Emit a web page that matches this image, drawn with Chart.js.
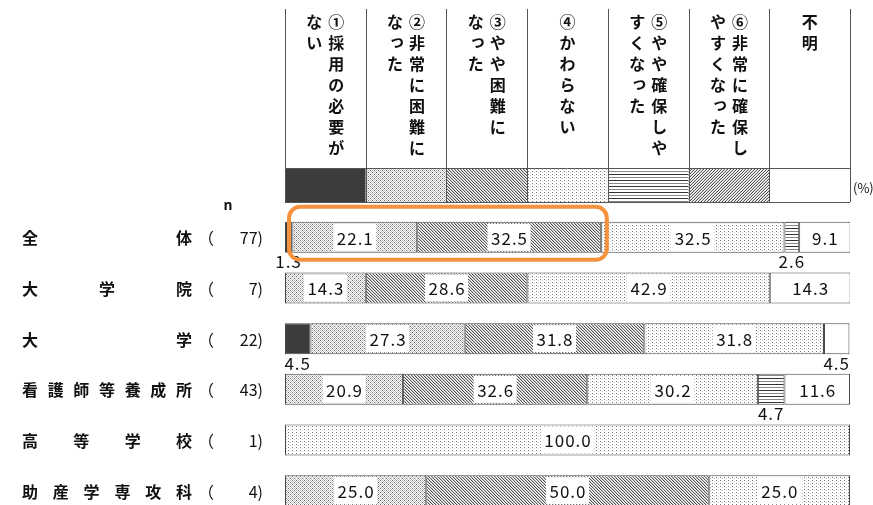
<!DOCTYPE html>
<html>
<head>
<meta charset="utf-8">
<script src="https://cdn.jsdelivr.net/npm/chart.js@4.4.1/dist/chart.umd.min.js"></script>
<style>
html, body { margin: 0; padding: 0; background: #fff; overflow: hidden; }
canvas { display: block; }
</style>
</head>
<body>
<canvas id="chartcanvas" width="873" height="530"></canvas>
<script>
// rows
var categories = ['全体', '大学院', '大学', '看護師等養成所', '高等学校', '助産学専攻科'];
var counts = [77, 7, 22, 43, 1, 4];

// answers (header text, \n = next vertical column)
var seriesNames = [
	'①採用の必要が\nない',
	'②非常に困難に\nなった',
	'③やや困難に\nなった',
	'④かわらない',
	'⑤やや確保しや\nすくなった',
	'⑥非常に確保し\nやすくなった',
	'不明'
];

// percentages per answer, one value per row
var s1 = [1.3, 0, 4.5, 0, 0, 0];
var s2 = [22.1, 14.3, 27.3, 20.9, 0, 25.0];
var s3 = [32.5, 28.6, 31.8, 32.6, 0, 50.0];
var s4 = [32.5, 42.9, 31.8, 30.2, 100.0, 25.0];
var s5 = [2.6, 0, 0, 4.7, 0, 0];
var s6 = [0, 0, 0, 0, 0, 0];
var s7 = [9.1, 14.3, 4.5, 11.6, 0, 0];
var seriesValues = [s1, s2, s3, s4, s5, s6, s7];

var FONT = '"Noto Sans CJK JP", "Noto Sans", sans-serif';

function makeTile(w, h, pixels) {
	var c = document.createElement('canvas');
	c.width = w; c.height = h;
	var g = c.getContext('2d');
	g.fillStyle = '#fff';
	g.fillRect(0, 0, w, h);
	for (var i = 0; i < pixels.length; i++) {
		g.fillStyle = pixels[i][2];
		g.fillRect(pixels[i][0], pixels[i][1], 1, 1);
	}
	return g.createPattern(c, 'repeat');
}

var p2 = [];
for (var yy = 0; yy < 4; yy++) {
	for (var xx = 0; xx < 4; xx++) {
		if ((xx + yy) % 2 == 0) p2.push([xx, yy, (xx == 0 && yy == 0) || (xx == 2 && yy == 2) ? '#666' : '#c4c4c4']);
	}
}
var fills = [
	'#3c3c3c',
	makeTile(4, 4, p2),
	makeTile(3, 3, [[0, 0, '#555'], [1, 0, '#c8c8c8'], [1, 1, '#555'], [2, 1, '#c8c8c8'], [2, 2, '#555'], [0, 2, '#c8c8c8']]),
	makeTile(4, 3, [[0, 0, '#777'], [2, 1, '#ccc']]),
	makeTile(1, 6, [[0, 0, '#333'], [0, 3, '#888']]),
	makeTile(3, 3, [[2, 0, '#555'], [1, 0, '#d4d4d4'], [1, 1, '#555'], [0, 1, '#d4d4d4'], [0, 2, '#555'], [2, 2, '#d4d4d4']]),
	'#ffffff'
];

var datasets = [];
for (var i = 0; i < seriesValues.length; i++) {
	datasets.push({
		label: seriesNames[i].replace('\n', ''),
		data: seriesValues[i],
		backgroundColor: fills[i],
		borderColor: '#4a4a4a',
		borderWidth: 1,
		borderSkipped: false,
		barPercentage: 0.612,
		categoryPercentage: 1.0
	});
}

var smallKana = 'っゃゅょぁぃぅぇぉ';

var headerPlugin = {
	id: 'header',
	afterDraw: function(chart) {
		var ctx = chart.ctx;
		var area = chart.chartArea;
		var colW = (area.right - area.left) / seriesNames.length;
		var top = 9, mid = 168, bot = 202;
		ctx.save();
		// swatches
		for (var k = 0; k < seriesNames.length; k++) {
			var x0 = area.left + k * colW;
			ctx.fillStyle = fills[k];
			ctx.fillRect(x0, mid, colW, bot - mid);
		}
		ctx.strokeStyle = '#555';
		ctx.lineWidth = 1;
		ctx.beginPath();
		for (var k = 0; k <= seriesNames.length; k++) {
			var x = Math.round(area.left + k * colW) + 0.5;
			ctx.moveTo(x, top);
			ctx.lineTo(x, bot);
		}
		ctx.moveTo(area.left, mid + 0.5);
		ctx.lineTo(area.right, mid + 0.5);
		ctx.moveTo(area.left, bot + 0.5);
		ctx.lineTo(area.right, bot + 0.5);
		ctx.stroke();

		// vertical text
		ctx.fillStyle = '#111';
		ctx.font = 'bold 16px ' + FONT;
		ctx.textAlign = 'center';
		ctx.textBaseline = 'middle';
		for (var k = 0; k < seriesNames.length; k++) {
			var cx = area.left + (k + 0.5) * colW;
			var lines = seriesNames[k].split('\n');
			for (var j = 0; j < lines.length; j++) {
				var lx = cx + ((lines.length - 1) / 2 - j) * 22;
				var chars = Array.from(lines[j]);
				for (var c = 0; c < chars.length; c++) {
					var dx = 0, dy = 0;
					if (smallKana.indexOf(chars[c]) >= 0) { dx = 2; dy = -2; }
					ctx.fillText(chars[c], lx + dx, 22 + c * 21 + dy);
				}
			}
		}

		ctx.font = 'bold 14px ' + FONT;
		ctx.fillText('n', 228, 205);
		ctx.font = '13px ' + FONT;
		ctx.textAlign = 'left';
		ctx.fillText('(%)', area.right + 3, 188);

		// row labels
		var yScale = chart.scales.y;
		for (var i = 0; i < categories.length; i++) {
			var y = yScale.getPixelForValue(i) + 1;
			var chars = Array.from(categories[i]);
			var step = (176 - 22) / (chars.length - 1);
			ctx.font = 'bold 16px ' + FONT;
			ctx.textAlign = 'left';
			for (var c = 0; c < chars.length; c++) {
				ctx.fillText(chars[c], 22 + c * step, y);
			}
			ctx.font = '16px ' + FONT;
			ctx.fillText('（', 198, y);
			ctx.textAlign = 'right';
			ctx.fillText(counts[i] + ')', 263, y);
		}
		ctx.restore();
	}
};

var labelPlugin = {
	id: 'valueLabels',
	afterDatasetsDraw: function(chart) {
		var ctx = chart.ctx;
		ctx.save();
		ctx.font = '17px ' + FONT;
		ctx.letterSpacing = '1px';
		ctx.textAlign = 'center';
		ctx.textBaseline = 'middle';
		for (var d = 0; d < chart.data.datasets.length; d++) {
			var meta = chart.getDatasetMeta(d);
			var vals = chart.data.datasets[d].data;
			for (var i = 0; i < meta.data.length; i++) {
				var v = vals[i];
				if (!v) continue;
				var bar = meta.data[i].getProps(['x', 'y', 'base', 'height'], true);
				var txt = v.toFixed(1);
				if (v >= 9) {
					var cx = (bar.x + bar.base) / 2;
					var w = ctx.measureText(txt).width + 6;
					ctx.fillStyle = '#fff';
					ctx.fillRect(cx - w / 2, bar.y - bar.height / 2 + 2, w, bar.height - 4);
					ctx.fillStyle = '#111';
					ctx.fillText(txt, cx + 0.5, bar.y + 1);
				} else {
					ctx.fillStyle = '#111';
					ctx.fillText(txt, (bar.x + bar.base) / 2, bar.y + bar.height / 2 + 9);
				}
			}
		}

		// orange highlight round row 0, answers ① to ③
		var x = chart.scales.x;
		var first = chart.getDatasetMeta(0).data[0].getProps(['y', 'height'], true);
		var x1 = x.getPixelForValue(0) + 4;
		var x2 = x.getPixelForValue(s1[0] + s2[0] + s3[0]) + 6;
		var y1 = first.y - first.height / 2 - 15;
		var y2 = first.y + first.height / 2 + 7;
		ctx.strokeStyle = '#f5923e';
		ctx.lineWidth = 4;
		ctx.beginPath();
		ctx.roundRect(x1, y1, x2 - x1, y2 - y1, 11);
		ctx.stroke();
		ctx.restore();
	}
};

var ctx = document.getElementById('chartcanvas');
var chart = new Chart(ctx, {
	type: 'bar',
	data: {
		labels: categories,
		datasets: datasets
	},
	options: {
		indexAxis: 'y',
		responsive: false,
		animation: false,
		devicePixelRatio: 1,
		layout: { padding: { left: 285, right: 23, top: 212, bottom: 14 } },
		plugins: {
			legend: { display: false },
			tooltip: { enabled: false }
		},
		scales: {
			x: { stacked: true, min: 0, max: 100, display: false },
			y: { stacked: true, display: false }
		}
	},
	plugins: [headerPlugin, labelPlugin]
});
</script>
</body>
</html>
